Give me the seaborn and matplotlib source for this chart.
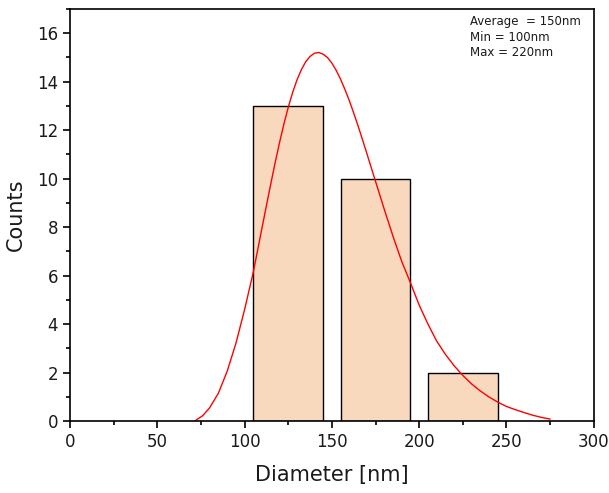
import numpy as np
import pandas as pd
import matplotlib
matplotlib.use('Agg')
import matplotlib.pyplot as plt
from matplotlib.ticker import MultipleLocator
import seaborn as sns

# histogram bins (centres) and counts
bin_centers = [125, 175, 225]
counts = [13, 10, 2]
bin_edges = [100, 150, 200, 250]

# log-normal fit curve
curve_x = [72, 76, 80, 85, 90, 95, 100, 105, 110, 115, 117.5, 120, 122.5,
           125, 127.5, 130, 132.5, 135, 137.5, 140, 142.5, 145, 147.5, 150,
           152.5, 155, 157.5, 160, 162.5, 165, 167.5, 170, 175, 180, 185,
           190, 195, 200, 205, 210, 215, 220, 225, 230, 235, 240, 245, 250,
           255, 260, 265, 270, 275]
curve_y = [0.03, 0.22, 0.55, 1.15, 2.05, 3.2, 4.6, 6.15, 7.98, 9.79, 10.66,
           11.48, 12.25, 12.94, 13.55, 14.07, 14.49, 14.82, 15.04, 15.17,
           15.2, 15.13, 14.99, 14.76, 14.46, 14.09, 13.67, 13.21, 12.70,
           12.17, 11.61, 11.04, 9.88, 8.73, 7.62, 6.58, 5.7, 4.78, 4.0, 3.3,
           2.75, 2.28, 1.88, 1.53, 1.24, 0.99, 0.78, 0.6, 0.47, 0.35, 0.24,
           0.15, 0.08]

stats_text = "Average  = 150nm\nMin = 100nm\nMax = 220nm"

sns.set_style("white")
plt.rcParams['font.family'] = ['DejaVu Sans']
plt.rcParams['text.color'] = '#1a1a1a'
plt.rcParams['axes.labelcolor'] = '#1a1a1a'
plt.rcParams['xtick.color'] = 'black'
plt.rcParams['ytick.color'] = 'black'
plt.rcParams['xtick.labelcolor'] = '#1a1a1a'
plt.rcParams['ytick.labelcolor'] = '#1a1a1a'

fig = plt.figure(figsize=(6.09, 4.93), dpi=100)
ax = fig.add_axes([0.115, 0.146, 0.86, 0.836])

df = pd.DataFrame({'d': bin_centers, 'n': counts})
sns.histplot(data=df, x='d', weights='n', bins=bin_edges, shrink=0.8,
             color='#F9D9BD', alpha=1, edgecolor='black', linewidth=1, ax=ax)
sns.lineplot(x=curve_x, y=curve_y, color='red', linewidth=1, ax=ax)

ax.set_xlim(0, 300)
ax.set_ylim(0, 17)
ax.xaxis.set_major_locator(MultipleLocator(50))
ax.xaxis.set_minor_locator(MultipleLocator(25))
ax.yaxis.set_major_locator(MultipleLocator(2))
ax.yaxis.set_minor_locator(MultipleLocator(1))
ax.tick_params(which='major', direction='out', length=5, width=1.2,
               labelsize=12, left=True, bottom=True, top=False, right=False)
ax.tick_params(which='minor', direction='out', length=3, width=1.2,
               left=True, bottom=True, top=False, right=False)
for s in ax.spines.values():
    s.set_linewidth(1.2)
    s.set_color('black')

ax.set_xlabel('Diameter [nm]', fontsize=15, labelpad=10)
ax.set_ylabel('Counts', fontsize=15, labelpad=8)

ax.text(0.763, 0.985, stats_text, transform=ax.transAxes, fontsize=8.5,
        va='top', ha='left', linespacing=1.25)

fig.savefig('out.png', dpi=100)
